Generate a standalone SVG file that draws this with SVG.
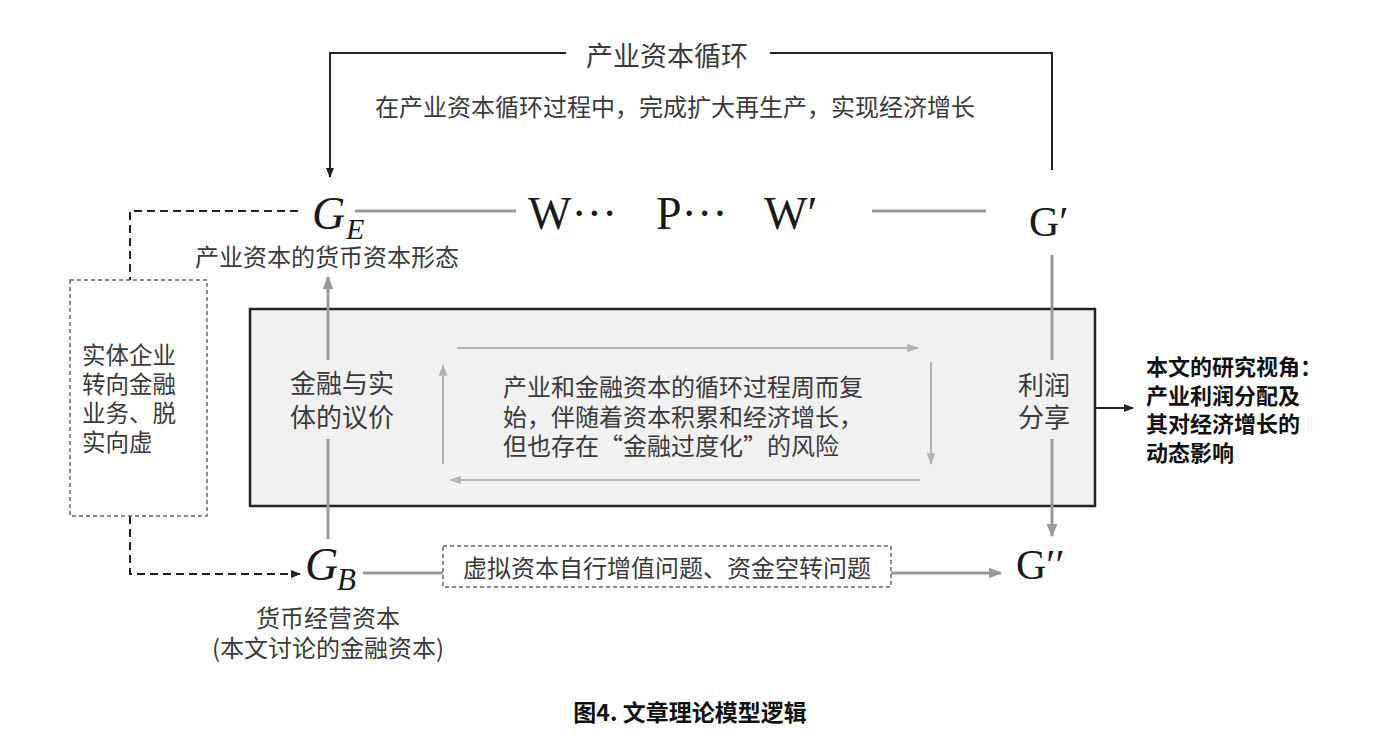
<svg xmlns="http://www.w3.org/2000/svg" width="1380" height="742" viewBox="0 0 1380 742">
<defs>
<style>
.cn{font-family:"Noto Sans CJK SC","Noto Sans",sans-serif;fill:#3a3a3a;}
.bd{font-family:"Noto Sans CJK SC","Noto Sans",sans-serif;fill:#111;font-weight:bold;}
.math{font-family:"Liberation Serif","DejaVu Serif",serif;fill:#1a1a1a;}
.blk{stroke:#222;stroke-width:2;fill:none;}
.gry{stroke:#999;stroke-width:3;fill:none;}
.lgt{stroke:#b3b3b3;stroke-width:2;fill:none;}
.dsh{stroke:#222;stroke-width:2;fill:none;stroke-dasharray:8 5;}
.dbox{stroke:#666;stroke-width:1.5;fill:#fff;stroke-dasharray:4 3;}
</style>
<marker id="aBlk" viewBox="0 0 10 10" refX="9" refY="5" markerWidth="5" markerHeight="5" orient="auto"><path d="M0,1 L10,5 L0,9 Z" fill="#222"/></marker>
<marker id="aGry" viewBox="0 0 10 10" refX="9" refY="5" markerWidth="4.5" markerHeight="4.5" orient="auto"><path d="M0,1 L10,5 L0,9 Z" fill="#999"/></marker>
<marker id="aLgt" viewBox="0 0 10 10" refX="9" refY="5" markerWidth="6" markerHeight="6" orient="auto"><path d="M0,1.5 L10,5 L0,8.5 Z" fill="#b3b3b3"/></marker>
</defs>
<rect width="1380" height="742" fill="#fff"/>

<g id="center-box">
<rect x="250" y="309" width="845" height="197" fill="#f1f1f1" stroke="#222" stroke-width="2.5"/>
</g>

<g id="connectors">
<path class="blk" d="M566,53 H330 V177" marker-end="url(#aBlk)"/>
<path class="blk" d="M770,53 H1052 V170"/>
<line class="gry" x1="355" y1="211" x2="516" y2="211"/>
<line class="gry" x1="872" y1="211" x2="986" y2="211"/>
<line class="gry" x1="1052" y1="255" x2="1052" y2="360"/>
<line class="gry" x1="1052" y1="439" x2="1052" y2="536" marker-end="url(#aGry)"/>
<line class="gry" x1="328" y1="539" x2="328" y2="439"/>
<line class="gry" x1="328" y1="360" x2="328" y2="277" marker-end="url(#aGry)"/>
<line class="gry" x1="363" y1="573" x2="443" y2="573"/>
<line class="gry" x1="891" y1="573" x2="1001" y2="573" marker-end="url(#aGry)"/>
<path class="dsh" d="M298,211 H130 V280"/>
<path class="dsh" d="M130,516 V574 H300" marker-end="url(#aBlk)"/>
<line class="lgt" x1="457" y1="348" x2="918" y2="348" marker-end="url(#aLgt)"/>
<line class="lgt" x1="931" y1="362" x2="931" y2="464" marker-end="url(#aLgt)"/>
<line class="lgt" x1="920" y1="480" x2="450" y2="480" marker-end="url(#aLgt)"/>
<line class="lgt" x1="443" y1="464" x2="443" y2="365" marker-end="url(#aLgt)"/>
<line class="blk" x1="1095" y1="408" x2="1133" y2="408" stroke-width="2.5" marker-end="url(#aBlk)"/>
</g>

<g id="title">
<text class="cn" x="667" y="66" font-size="27" text-anchor="middle">产业资本循环</text>
<text class="cn" x="675" y="116" font-size="24" text-anchor="middle">在产业资本循环过程中，完成扩大再生产，实现经济增长</text>
</g>

<g id="node-GE">
<text class="math" x="312" y="229" font-size="46" font-style="italic">G</text>
<text class="math" x="346" y="239" font-size="30" font-style="italic">E</text>
<text class="cn" x="327" y="266" font-size="24" text-anchor="middle">产业资本的货币资本形态</text>
</g>

<g id="node-WPW">
<text class="math" x="528" y="229" font-size="46">W···</text>
<text class="math" x="656" y="229" font-size="46">P···</text>
<text class="math" x="764" y="229" font-size="46">W′</text>
</g>

<g id="node-Gp">
<text class="math" x="1029" y="236" font-size="42">G′</text>
</g>

<g id="node-dashed-left">
<rect class="dbox" x="70" y="280" width="137" height="236"/>
<text class="cn" font-size="23.5"><tspan x="82" y="364">实体企业</tspan><tspan x="82" y="393">转向金融</tspan><tspan x="82" y="422">业务、脱</tspan><tspan x="82" y="451">实向虚</tspan></text>
</g>

<g id="node-pricing">
<text class="cn" font-size="26" text-anchor="middle"><tspan x="342" y="393">金融与实</tspan><tspan x="342" y="427">体的议价</tspan></text>
</g>

<g id="node-cycle">
<text class="cn" font-size="24"><tspan x="503" y="396">产业和金融资本的循环过程周而复</tspan><tspan x="503" y="426">始，伴随着资本积累和经济增长，</tspan><tspan x="503" y="455">但也存在“金融过度化”的风险</tspan></text>
</g>

<g id="node-profit">
<text class="cn" font-size="26" text-anchor="middle"><tspan x="1044" y="395">利润</tspan><tspan x="1044" y="427">分享</tspan></text>
</g>

<g id="node-research">
<text class="bd" font-size="22"><tspan x="1146" y="375">本文的研究视角：</tspan><tspan x="1146" y="404">产业利润分配及</tspan><tspan x="1146" y="432">其对经济增长的</tspan><tspan x="1146" y="461">动态影响</tspan></text>
</g>

<g id="node-GB">
<text class="math" x="305" y="580" font-size="46" font-style="italic">G</text>
<text class="math" x="337" y="590" font-size="31" font-style="italic">B</text>
<text class="cn" x="328" y="627" font-size="24" text-anchor="middle">货币经营资本</text>
<text class="cn" x="328" y="657" font-size="24" text-anchor="middle">(本文讨论的金融资本)</text>
</g>

<g id="node-virtual">
<rect class="dbox" x="443" y="546" width="448" height="41"/>
<text class="cn" x="667" y="577" font-size="24" text-anchor="middle">虚拟资本自行增值问题、资金空转问题</text>
</g>

<g id="node-Gpp">
<text class="math" x="1016" y="579" font-size="42">G′′</text>
</g>

<g id="caption">
<text class="bd" x="690" y="721" font-size="23" text-anchor="middle" fill="#222">图4. 文章理论模型逻辑</text>
</g>
</svg>
